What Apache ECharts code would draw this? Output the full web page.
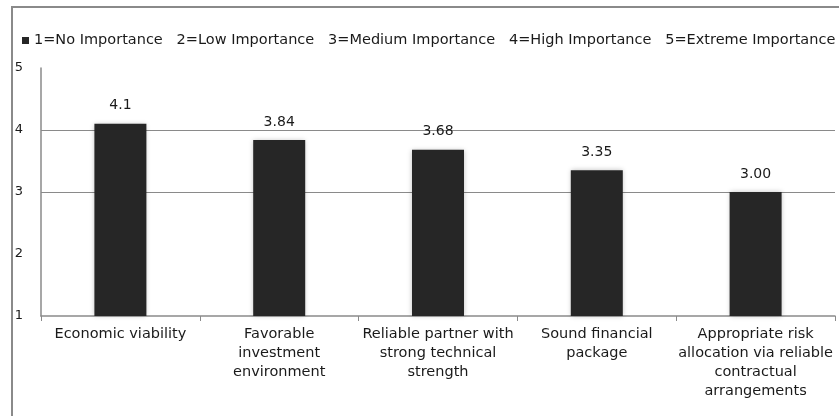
<!DOCTYPE html>
<html>
<head>
<meta charset="utf-8">
<script src="https://cdn.jsdelivr.net/npm/echarts@6/dist/echarts.min.js"></script>
<style>
  html, body { margin: 0; padding: 0; background: #fff; }
  #chart { width: 839px; height: 416px; }
</style>
</head>
<body>
<div id="chart"></div>
<script>
// Importance rating of each factor (1-5 scale)
const categories = [
  'Economic viability',
  'Favorable\ninvestment\nenvironment',
  'Reliable partner with\nstrong technical\nstrength',
  'Sound financial\npackage',
  'Appropriate risk\nallocation via reliable\ncontractual\narrangements'
];
const scores = [4.1, 3.84, 3.68, 3.35, 3.00];
const scoreLabels = ['4.1', '3.84', '3.68', '3.35', '3.00'];
const seriesName = '1=No Importance   2=Low Importance   3=Medium Importance   4=High Importance   5=Extreme Importance';

const FONT = 'DejaVu Sans';
const chart = echarts.init(document.getElementById('chart'), null, { renderer: 'canvas' });

chart.setOption({
  animation: false,
  backgroundColor: '#fff',
  textStyle: { fontFamily: FONT },
  graphic: [{
    type: 'rect',
    shape: { x: 12, y: 7, width: 900, height: 500 },
    style: { fill: 'none', stroke: '#8a8a8a', lineWidth: 2 },
    silent: true
  }],
  legend: {
    left: 17, top: 28,
    itemWidth: 7, itemHeight: 7, itemGap: 4,
    icon: 'rect',
    textStyle: { fontFamily: FONT, fontSize: 14.5, color: '#1a1a1a', padding: [0, 0, 0, 0] },
    data: [seriesName]
  },
  grid: { left: 41, right: 4, top: 68, bottom: 100, containLabel: false },
  xAxis: {
    type: 'category',
    data: categories,
    axisLine: { lineStyle: { color: '#8a8a8a', width: 1.5 } },
    axisTick: { show: true, length: 5, lineStyle: { color: '#8a8a8a' } },
    axisLabel: {
      fontFamily: FONT, fontSize: 14.5, color: '#1a1a1a',
      lineHeight: 19, margin: 9, interval: 0
    }
  },
  yAxis: {
    type: 'value',
    min: 1, max: 5, interval: 1,
    axisLine: { show: true, lineStyle: { color: '#8a8a8a', width: 1.5 } },
    axisTick: { show: false },
    axisLabel: { fontFamily: FONT, fontSize: 13, color: '#1a1a1a', margin: 18 },
    splitLine: {
      show: true,
      lineStyle: { color: ['transparent', 'transparent', '#8a8a8a', '#8a8a8a', 'transparent'], width: 1.2 }
    }
  },
  series: [{
    name: seriesName,
    type: 'bar',
    data: scores,
    barWidth: 52,
    itemStyle: {
      color: '#262626',
      shadowBlur: 5,
      shadowColor: 'rgba(0,0,0,0.25)'
    },
    label: {
      show: true,
      position: 'top',
      distance: 11,
      fontFamily: FONT, fontSize: 14, color: '#1a1a1a',
      formatter: p => scoreLabels[p.dataIndex]
    }
  }]
});
</script>
</body>
</html>
